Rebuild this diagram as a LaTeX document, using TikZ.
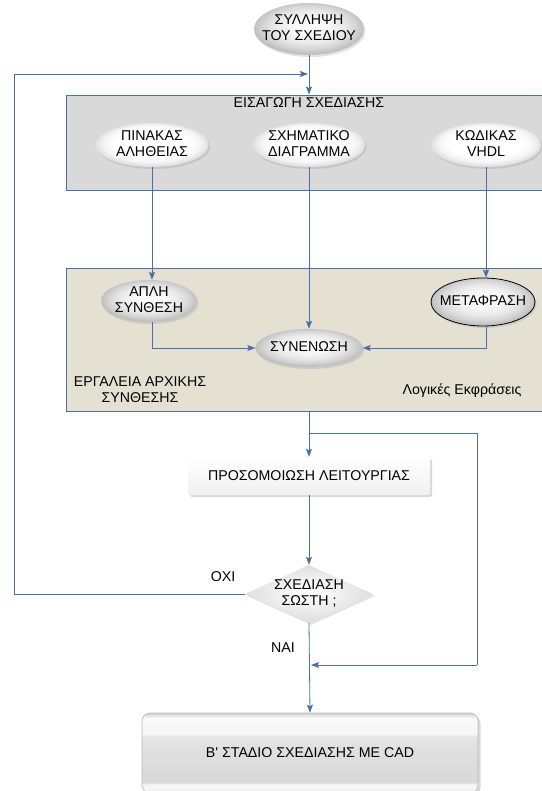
\documentclass[tikz,border=0pt]{standalone}
\usepackage{fontspec}
\setmainfont{Liberation Sans}
\usetikzlibrary{shapes.geometric,arrows.meta,shadows,calc}

\definecolor{flowblue}{HTML}{4A6FA5}
\definecolor{inputgray}{HTML}{D9D9D9}
\definecolor{synthbeige}{HTML}{E4E0D2}

% glossy fills for the rounded shapes (the path box covers the inner 50bp)
\pgfdeclareradialshading{lightpill}{\pgfpoint{0bp}{3bp}}{color(0bp)=(white); color(16bp)=(white); color(21bp)=(gray!7); color(25bp)=(gray!24); color(50bp)=(gray!24)}
\pgfdeclareradialshading{greypill}{\pgfpoint{0bp}{3bp}}{color(0bp)=(gray!3); color(9bp)=(gray!7); color(16bp)=(gray!18); color(21bp)=(gray!33); color(25bp)=(gray!50); color(50bp)=(gray!50)}
\pgfdeclareradialshading{checkfill}{\pgfpoint{0bp}{2bp}}{color(0bp)=(white); color(7bp)=(gray!6); color(16bp)=(gray!16); color(25bp)=(gray!26); color(50bp)=(gray!26)}
\pgfdeclareverticalshading{cadbar}{100bp}{color(0bp)=(gray!40); color(25bp)=(gray!40); color(26bp)=(gray!10); color(30bp)=(gray!6); color(32bp)=(gray!30); color(50bp)=(gray!25); color(60bp)=(gray!21); color(62bp)=(gray!7); color(72bp)=(gray!4); color(75bp)=(gray!38); color(100bp)=(gray!38)}

% zero-width text block so the shape keeps its own size
\newcommand{\ctext}[1]{\makebox[0pt]{\begin{tabular}{@{}c@{}}#1\end{tabular}}}

\begin{document}
\begin{tikzpicture}[x=1pt,y=-1pt,
  every node/.style={font=\fontsize{14.2}{16.5}\selectfont, text=black},
  flow/.style={draw=flowblue, line width=0.8pt, -{Stealth[length=8pt,width=6pt,inset=1.5pt]}},
  link/.style={draw=flowblue, line width=0.8pt},
  stage/.style={rectangle, draw=flowblue, line width=0.9pt, inner sep=0pt},
  pill/.style={ellipse, inner sep=0pt, inner ysep=-3pt, shade,
    drop shadow={opacity=0.22, shadow xshift=1.5pt, shadow yshift=-2pt}},
  softpill/.style={pill, shading=lightpill},
  darkpill/.style={pill, shading=greypill},
  simbox/.style={rectangle, inner sep=0pt, minimum width=242pt, minimum height=38pt,
    top color=white, bottom color=gray!12, rounded corners=2pt,
    drop shadow={opacity=0.3, shadow xshift=2pt, shadow yshift=-2pt}},
  check/.style={diamond, inner sep=0pt, minimum width=128pt, minimum height=58pt, shade, shading=checkfill,
    drop shadow={opacity=0.22, shadow xshift=2pt, shadow yshift=-2pt}},
  cadbox/.style={rectangle, rounded corners=8pt, draw=gray!55, line width=0.6pt,
    minimum width=336pt, minimum height=80pt, shade, shading=cadbar,
    drop shadow={opacity=0.3, shadow xshift=2.5pt, shadow yshift=-2.5pt}},
  caption/.style={align=center, inner sep=0pt}
]
\useasboundingbox (0,0) rectangle (541,791);

% the two stage panels
\node[stage, fill=inputgray, minimum width=480pt, minimum height=95pt] (box1) at (306,142.5) {};
\node[stage, fill=synthbeige, minimum width=480pt, minimum height=143pt] (box2) at (306,339.5) {};

% texts on the panels
\node[caption] (inputtitle) at (309,103) {ΕΙΣΑΓΩΓΗ ΣΧΕΔΙΑΣΗΣ};
\node[caption] (toolstitle) at (140,389.5) {ΕΡΓΑΛΕΙΑ ΑΡΧΙΚΗΣ\\ΣΥΝΘΕΣΗΣ};
\node[caption] (logictitle) at (462,391) {Λογικές Εκφράσεις};

% shapes
\node[darkpill, minimum width=110pt, minimum height=52pt] (concept) at (309,29) {\ctext{ΣΥΛΛΗΨΗ\\ΤΟΥ ΣΧΕΔΙΟΥ}};
\node[softpill, minimum width=113pt, minimum height=44pt] (truth) at (152,145) {\ctext{ΠΙΝΑΚΑΣ\\ΑΛΗΘΕΙΑΣ}};
\node[softpill, minimum width=112pt, minimum height=44pt] (schem) at (309,145) {\ctext{ΣΧΗΜΑΤΙΚΟ\\ΔΙΑΓΡΑΜΜΑ}};
\node[softpill, minimum width=110pt, minimum height=44pt] (vhdl) at (486,145) {\ctext{ΚΩΔΙΚΑΣ\\VHDL}};
\node[darkpill, minimum width=96pt, minimum height=42pt] (simple) at (149,301) {\ctext{ΑΠΛΗ\\ΣΥΝΘΕΣΗ}};
\node[darkpill, draw=black, line width=0.8pt, minimum width=104pt, minimum height=48pt] (translate) at (483,302) {\ctext{ΜΕΤΑΦΡΑΣΗ}};
\node[darkpill, minimum width=107pt, minimum height=38pt] (merge) at (309,348) {\ctext{ΣΥΝΕΝΩΣΗ}};
\node[simbox] (sim) at (309,476) {ΠΡΟΣΟΜΟΙΩΣΗ ΛΕΙΤΟΥΡΓΙΑΣ};
\node[check] (check) at (309,594) {\ctext{ΣΧΕΔΙΑΣΗ\\ΣΩΣΤΗ ;}};
\node[cadbox] (cad) at (310,753) {Β\textquotesingle{} ΣΤΑΔΙΟ ΣΧΕΔΙΑΣΗΣ ΜΕ CAD};

% branch labels
\node[caption] (nolabel) at (223,577) {ΟΧΙ};
\node[caption] (yeslabel) at (283,648) {ΝΑΙ};

% routing points
\coordinate (fbx) at (14,0);
\coordinate (fbend) at (308,74);
\coordinate (split) at (309,433);
\coordinate (rx) at (477,0);
\coordinate (joinpt) at (311,665);

% connectors
\draw[flow] (concept.south) -- (concept.south |- box1.north);
\draw[flow] (check.west) -- (check.west -| fbx) |- (fbend);
\draw[flow] (truth.south) -- (truth.south |- simple.north);
\draw[flow] (vhdl.south) -- (vhdl.south |- translate.north);
\draw[flow] (schem.south) -- (merge.north);
\draw[flow] (truth.south |- simple.south) |- (merge.west);
\draw[flow] (vhdl.south |- translate.south) |- (merge.east);
\draw[flow] (merge |- box2.south) -- (sim.north);
\draw[link] (split) -- (split -| rx) -- (rx |- joinpt);
\draw[flow] (rx |- joinpt) -- (joinpt);
\draw[flow] (sim.south) -- (check.north);
\draw[flow] (check.south) -- (cad.north);
\end{tikzpicture}
\end{document}
